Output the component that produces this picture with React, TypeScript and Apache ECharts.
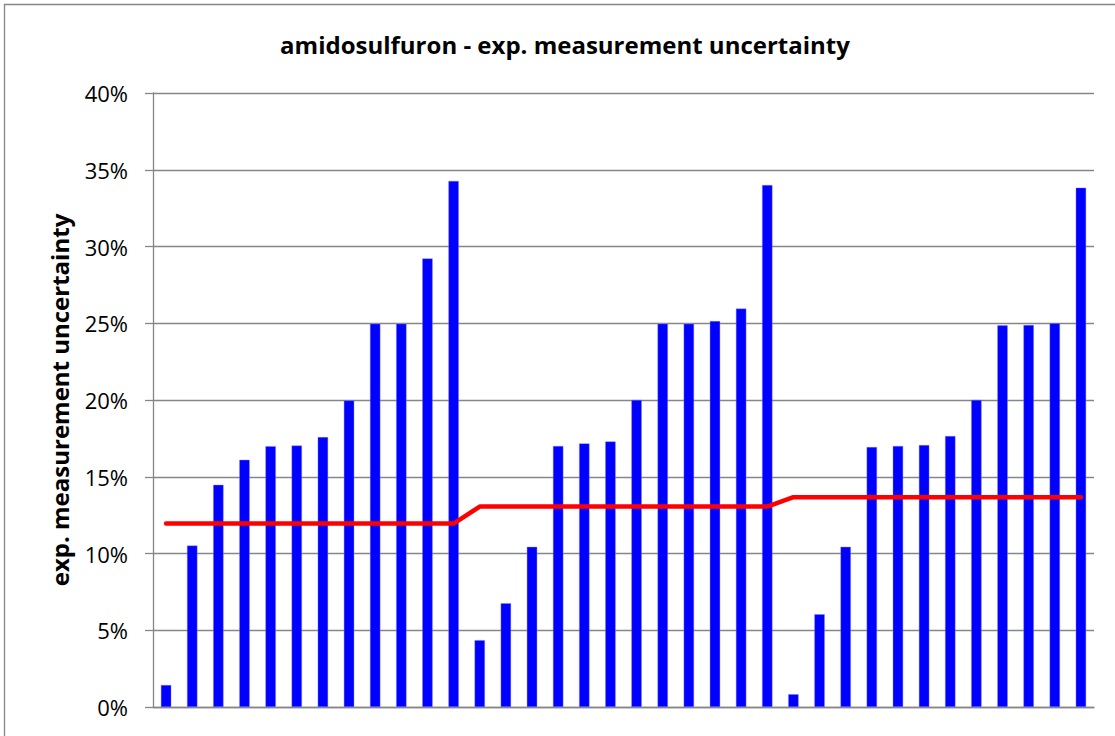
import React, { useEffect, useRef } from "react";
import * as echarts from "echarts";

const categories: string[] = Array.from({ length: 36 }, (_, i) => String(i + 1));

const group1: number[] = [1.43, 10.51, 14.47, 16.1, 16.99, 17.03, 17.58, 19.97, 24.97, 24.97, 29.22, 34.27];
const group2: number[] = [4.35, 6.76, 10.43, 17.0, 17.17, 17.3, 20.0, 24.97, 24.97, 25.14, 25.95, 34.0];
const group3: number[] = [0.83, 6.04, 10.43, 16.93, 17.0, 17.06, 17.65, 20.0, 24.86, 24.88, 24.99, 33.83];

const lineLevels: number[] = [11.95, 13.06, 13.67];
const groupSize = 12;

const yTicks: number[] = [0, 5, 10, 15, 20, 25, 30, 35, 40];

const titleText = "amidosulfuron - exp. measurement uncertainty";
const yAxisTitle = "exp. measurement uncertainty";

export default function App() {
  const ref = useRef<HTMLDivElement>(null);

  useEffect(() => {
    if (!ref.current) return;
    const chart = echarts.init(ref.current, null, { renderer: "svg" });
    const barData = [...group1, ...group2, ...group3];
    const lineData: number[] = [];
    lineLevels.forEach((lv) => {
      for (let i = 0; i < groupSize; i++) lineData.push(lv);
    });
    const font = "'Open Sans', 'Noto Sans', sans-serif";
    chart.setOption({
      animation: false,
      backgroundColor: "#ffffff",
      textStyle: { fontFamily: font },
      grid: { left: 153, right: 21, top: 93, bottom: 29, containLabel: false },
      graphic: [
        {
          type: "rect",
          shape: { x: 4.5, y: 4.5, width: 1300, height: 900 },
          style: { fill: "none", stroke: "#868686", lineWidth: 1.3 },
          silent: true,
        },
        {
          type: "text",
          x: 565,
          y: 44,
          style: {
            text: titleText,
            fontFamily: font,
            fontWeight: "bold",
            fontSize: 24,
            fill: "#000",
            textAlign: "center",
            textVerticalAlign: "middle",
          },
        },
      ],
      xAxis: {
        type: "category",
        data: categories,
        boundaryGap: true,
        axisLine: { show: true, lineStyle: { color: "#868686", width: 1.3 } },
        axisTick: { show: false },
        axisLabel: { show: false },
        splitLine: { show: false },
      },
      yAxis: {
        type: "value",
        min: yTicks[0],
        max: yTicks[yTicks.length - 1],
        interval: 5,
        name: yAxisTitle,
        nameLocation: "middle",
        nameRotate: 90,
        nameGap: 82,
        nameTextStyle: { fontFamily: font, fontWeight: "bold", fontSize: 24, color: "#000" },
        axisLine: { show: true, lineStyle: { color: "#868686", width: 1.3 } },
        axisTick: { show: true, inside: false, length: 8, lineStyle: { color: "#868686", width: 1.3 } },
        axisLabel: {
          formatter: "{value}%",
          fontFamily: font,
          fontSize: 22,
          color: "#000",
          margin: 25,
        },
        splitLine: { show: true, lineStyle: { color: "#868686", width: 1.3 } },
      },
      series: [
        {
          type: "bar",
          data: barData,
          barWidth: 10.3,
          itemStyle: { color: "#0000FF", borderColor: "#8080ff", borderWidth: 0.4 },
          z: 2,
        },
        {
          type: "line",
          data: lineData,
          symbol: "none",
          lineStyle: { color: "#FF0000", width: 4.5, cap: "round", join: "round" },
          z: 3,
        },
      ],
    });
    return () => chart.dispose();
  }, []);

  return (
    <div
      ref={ref}
      style={{ position: "fixed", left: 0, top: 0, width: 1115, height: 736 }}
    />
  );
}
